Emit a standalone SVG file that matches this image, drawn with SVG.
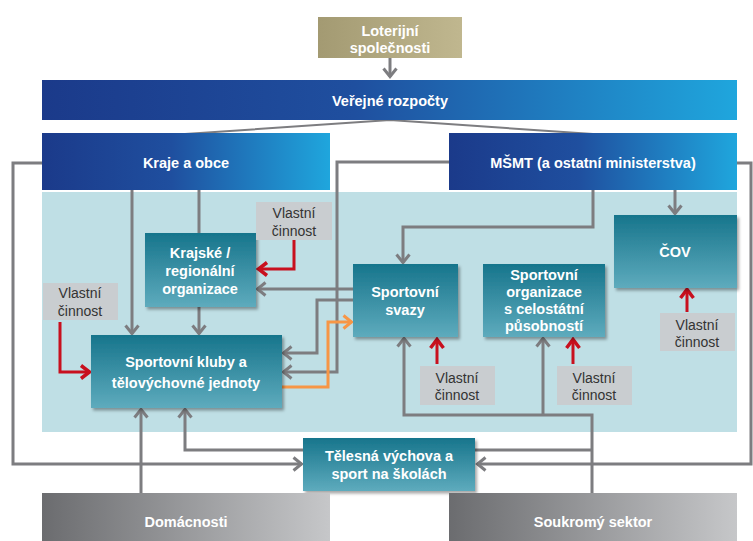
<svg xmlns="http://www.w3.org/2000/svg" width="753" height="541" viewBox="0 0 753 541">
<defs>
<linearGradient id="gBlue" x1="0" y1="0" x2="1" y2="0">
<stop offset="0" stop-color="#1b3a8a"/>
<stop offset="0.45" stop-color="#1f4f9f"/>
<stop offset="1" stop-color="#1fa6dd"/>
</linearGradient>
<linearGradient id="gTeal" x1="0" y1="0" x2="0" y2="1">
<stop offset="0" stop-color="#17758c"/>
<stop offset="1" stop-color="#5eabbd"/>
</linearGradient>
<linearGradient id="gGray" x1="0" y1="0" x2="1" y2="0">
<stop offset="0" stop-color="#6b6c6f"/>
<stop offset="1" stop-color="#c6c7c9"/>
</linearGradient>
<linearGradient id="gOlive" x1="0" y1="0" x2="1" y2="0">
<stop offset="0" stop-color="#a39a72"/>
<stop offset="1" stop-color="#c0b78f"/>
</linearGradient>
<filter id="sh" x="-10%" y="-10%" width="125%" height="130%">
<feDropShadow dx="2" dy="2.5" stdDeviation="1.5" flood-color="#000" flood-opacity="0.35"/>
</filter>
<marker id="ag" markerUnits="userSpaceOnUse" markerWidth="16" markerHeight="16" refX="11" refY="8" orient="auto">
<path d="M2.5,1.5 L10.5,8 L2.5,14.5" fill="none" stroke="#7d7d80" stroke-width="3"/>
</marker>
<marker id="ar" markerUnits="userSpaceOnUse" markerWidth="16" markerHeight="16" refX="11" refY="8" orient="auto">
<path d="M2,1.5 L10.5,8 L2,14.5" fill="none" stroke="#c8101e" stroke-width="3.5"/>
</marker>
<marker id="ao" markerUnits="userSpaceOnUse" markerWidth="16" markerHeight="16" refX="11" refY="8" orient="auto">
<path d="M2.5,1.5 L10.5,8 L2.5,14.5" fill="none" stroke="#f79646" stroke-width="3"/>
</marker>
</defs>
<style>
.t{font-family:"Liberation Sans",Arial,sans-serif;font-weight:bold;fill:#fff;text-anchor:middle;font-size:14.5px}
.h{font-family:"Liberation Sans",Arial,sans-serif;font-weight:bold;fill:#fff;text-anchor:middle;font-size:14.5px}
.v{font-family:"Liberation Sans",Arial,sans-serif;fill:#333;text-anchor:middle;font-size:14px}
.vb{fill:#c9cdd0}
.gl{fill:none;stroke:#7d7d80;stroke-width:3}
.gt{fill:none;stroke:#7d7d80;stroke-width:2}
.rl{fill:none;stroke:#c8101e;stroke-width:3}
.ol{fill:none;stroke:#f79646;stroke-width:3}
.box{fill:url(#gTeal);filter:url(#sh)}
</style>
<rect width="753" height="541" fill="#fff"/>

<rect id="panel" x="42" y="192" width="695" height="240" fill="#bfdfe5"/>

<g id="connectors">
<path class="gl" d="M390,58 V77" marker-end="url(#ag)"/>
<path class="gt" d="M390,120 L185,134 M390,120 L593,134"/>
<path class="gl" d="M42,163 H13 V464 H302" marker-end="url(#ag)"/>
<path class="gl" d="M737,163 H751 V464 H477" marker-end="url(#ag)"/>
<path class="gl" d="M132,190 V334" marker-end="url(#ag)"/>
<path class="gl" d="M199,190 V233"/>
<path class="gl" d="M199,307 V334" marker-end="url(#ag)"/>
<path class="gl" d="M353,289 H257" marker-end="url(#ag)"/>
<path class="gl" d="M353,300 H317 V353 H283" marker-end="url(#ag)"/>
<path class="gl" d="M449,162 H337 V372 H283" marker-end="url(#ag)"/>
<path class="gl" d="M593,190 V227 H403 V263" marker-end="url(#ag)"/>
<path class="gl" d="M675,190 V214" marker-end="url(#ag)"/>
<path class="gl" d="M592,493 V415 H404 V338" marker-end="url(#ag)"/>
<path class="gl" d="M543,415 V338" marker-end="url(#ag)"/>
<path class="gl" d="M592,450 H475"/>
<path class="gl" d="M303,450 H185 V409" marker-end="url(#ag)"/>
<path class="gl" d="M141,493 V409" marker-end="url(#ag)"/>
<path class="ol" d="M276,387 H328 V322 H352" marker-end="url(#ao)"/>
<path class="rl" d="M294,240 V269 H258" marker-end="url(#ar)"/>
<path class="rl" d="M60,322 V372 H90" marker-end="url(#ar)"/>
<path class="rl" d="M437,364 V339" marker-end="url(#ar)"/>
<path class="rl" d="M573,364 V339" marker-end="url(#ar)"/>
<path class="rl" d="M687,312 V289" marker-end="url(#ar)"/>
</g>

<g id="loterijni">
<rect x="318" y="17" width="144" height="41" fill="url(#gOlive)"/>
<text class="h" x="390" y="36">Loterijní</text>
<text class="h" x="390" y="53">společnosti</text>
</g>
<g id="verejne">
<rect x="42" y="80" width="695" height="40" fill="url(#gBlue)"/>
<text class="h" x="390" y="106">Veřejné rozpočty</text>
</g>
<g id="kraje">
<rect x="42" y="133" width="288" height="57" fill="url(#gBlue)"/>
<text class="h" x="186" y="168">Kraje a obce</text>
</g>
<g id="msmt">
<rect x="449" y="133" width="288" height="57" fill="url(#gBlue)"/>
<text class="h" x="593" y="168">MŠMT (a ostatní ministerstva)</text>
</g>

<g id="krajske">
<rect class="box" x="145" y="233" width="111" height="74"/>
<text class="t" x="200" y="258">Krajské /</text>
<text class="t" x="200" y="276">regionální</text>
<text class="t" x="200" y="294">organizace</text>
</g>
<g id="kluby">
<rect class="box" x="91" y="335" width="191" height="73"/>
<text class="t" x="186" y="367">Sportovní kluby a</text>
<text class="t" x="186" y="388">tělovýchovné jednoty</text>
</g>
<g id="svazy">
<rect class="box" x="353" y="264" width="105" height="73"/>
<text class="t" x="405" y="297">Sportovní</text>
<text class="t" x="405" y="315">svazy</text>
</g>
<g id="organizace">
<rect class="box" x="483" y="264" width="122" height="73"/>
<text class="t" x="544" y="280">Sportovní</text>
<text class="t" x="544" y="297">organizace</text>
<text class="t" x="544" y="314">s celostátní</text>
<text class="t" x="544" y="331">působností</text>
</g>
<g id="cov">
<rect class="box" x="614" y="215" width="123" height="73"/>
<text class="t" x="675" y="257">ČOV</text>
</g>

<g id="vc1">
<rect class="vb" x="256" y="202" width="76" height="38"/>
<text class="v" x="294" y="218">Vlastní</text>
<text class="v" x="294" y="236">činnost</text>
</g>
<g id="vc2">
<rect class="vb" x="43" y="283" width="75" height="37"/>
<text class="v" x="80" y="298">Vlastní</text>
<text class="v" x="80" y="316">činnost</text>
</g>
<g id="vc3">
<rect class="vb" x="420" y="366" width="75" height="39"/>
<text class="v" x="457" y="383">Vlastní</text>
<text class="v" x="457" y="400">činnost</text>
</g>
<g id="vc4">
<rect class="vb" x="557" y="366" width="75" height="39"/>
<text class="v" x="594" y="383">Vlastní</text>
<text class="v" x="594" y="400">činnost</text>
</g>
<g id="vc5">
<rect class="vb" x="660" y="313" width="75" height="38"/>
<text class="v" x="697" y="330">Vlastní</text>
<text class="v" x="697" y="347">činnost</text>
</g>

<g id="telesna">
<rect class="box" x="303" y="438" width="172" height="53"/>
<text class="h" x="389" y="461">Tělesná výchova a</text>
<text class="h" x="389" y="479">sport na školách</text>
</g>
<g id="domacnosti">
<rect x="42" y="493" width="288" height="48" fill="url(#gGray)"/>
<text class="h" x="186" y="527">Domácnosti</text>
</g>
<g id="soukromy">
<rect x="449" y="493" width="288" height="48" fill="url(#gGray)"/>
<text class="h" x="593" y="527">Soukromý sektor</text>
</g>
</svg>
